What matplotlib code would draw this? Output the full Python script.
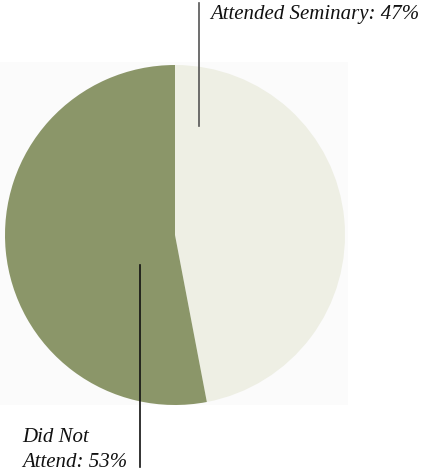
import matplotlib.pyplot as plt
from matplotlib.patches import Rectangle

# data
labels = ["Attended Seminary: 47%", "Did Not\nAttend: 53%"]
shares = [47, 53]
colors = ["#eeefe4", "#8b9669"]

W, H = 422, 474
fig = plt.figure(figsize=(W / 100, H / 100), dpi=100)
ax = fig.add_axes([0, 0, 1, 1])

# faint backdrop behind the pie
ax.add_patch(Rectangle((0, H - 405), 348, 343, facecolor="#fbfbfb",
                       edgecolor="none", zorder=0))

ax.pie(shares, colors=colors, startangle=90, counterclock=False,
       center=(175, H - 235), radius=170, frame=True,
       wedgeprops=dict(linewidth=0))

# leader lines
ax.plot([199, 199], [H - 3, H - 126], color="#555555", lw=1.2)
ax.plot([140, 140], [H - 265, H - 467], color="#111111", lw=1.2)

ax.text(210, H - 19, labels[0], fontsize=15, style="italic",
        family="Liberation Serif", color="#111111", va="baseline")
ax.text(22, H - 442, "Did Not", fontsize=15, style="italic",
        family="Liberation Serif", color="#111111", va="baseline")
ax.text(22, H - 467, "Attend: 53%", fontsize=15, style="italic",
        family="Liberation Serif", color="#111111", va="baseline")

ax.set_xlim(0, W)
ax.set_ylim(0, H)
ax.set_aspect("auto")
ax.axis("off")

fig.savefig("out.png", dpi=100)
